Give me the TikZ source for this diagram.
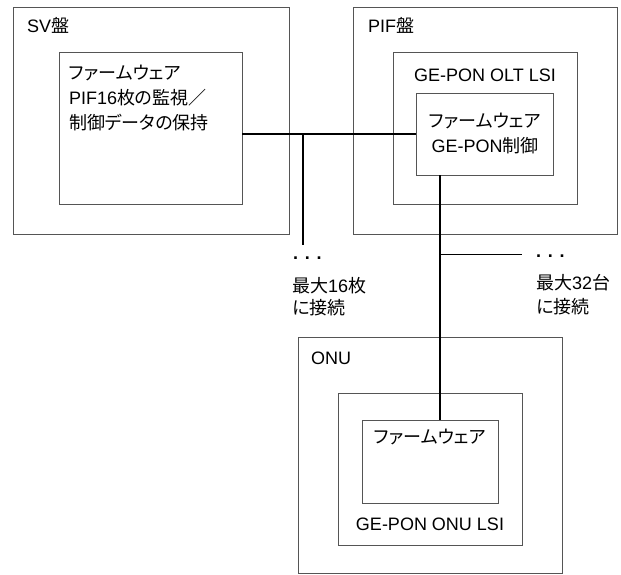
\documentclass[tikz,border=0pt]{standalone}
\usepackage{fontspec}
\setmainfont{Liberation Sans}
\newfontfamily\jpfont{Noto Sans CJK JP}[RawFeature=+palt]
\newcommand{\jtext}[1]{{\jpfont #1}}
\usetikzlibrary{positioning}
\definecolor{framegray}{HTML}{555555}

\begin{document}
\begin{tikzpicture}[
  x=1pt, y=-1pt,
  frame/.style={rectangle, draw=framegray, line width=0.8pt,
                inner sep=0pt, outer sep=0pt, anchor=north west},
  lbl/.style={inner sep=0pt, font=\fontsize{18}{25}\selectfont},
  bus/.style={draw=black, line width=1.6pt},
  tap/.style={draw=black, line width=0.9pt}
]
\useasboundingbox (0,0) rectangle (621,574);
% SV board
\node[frame, minimum width=276pt, minimum height=227pt] (sv) at (13,7) {};
\node[frame, minimum width=183pt, minimum height=152pt] (svfw) at (59,52) {};
\node[lbl, anchor=west] (svname) at (27,25) {SV\jtext{盤}};
\node[lbl, anchor=north west, align=left] (svtext) at (69,65)
  {\jtext{ファームウェア}\\PIF16\jtext{枚の監視／}\\\jtext{制御データの保持}};
% PIF board
\node[frame, minimum width=264pt, minimum height=227pt] (pif) at (353,7) {};
\node[frame, minimum width=184pt, minimum height=152pt] (olt) at (393,52) {};
\node[frame, minimum width=137pt, minimum height=82pt] (pfw) at (416,93) {};
\node[lbl, anchor=west] (pifname) at (368,25) {PIF\jtext{盤}};
\node[lbl] (oltname) at (485,75) {GE-PON OLT LSI};
\node[lbl, align=center] (pfwtext) at (485,134)
  {\jtext{ファームウェア}\\GE-PON\jtext{制御}};
% ONU
\node[frame, minimum width=264pt, minimum height=236pt] (onu) at (298,337) {};
\node[frame, minimum width=184pt, minimum height=152pt] (onulsi) at (338,393) {};
\node[frame, minimum width=136pt, minimum height=83pt] (onufw) at (362,420) {};
\node[lbl, anchor=west] (onuname) at (311,358) {ONU};
\node[lbl] (onufwtext) at (430,437) {\jtext{ファームウェア}};
\node[lbl] (onulsiname) at (430,524) {GE-PON ONU LSI};

% Connections
\coordinate (svtap) at (303,245);
\coordinate (drop) at (440,175);
\coordinate (onutap) at (522,254);
\draw[bus] (svfw.east |- pfw.west) -- (pfw.west);
\draw[bus] (svtap |- pfw.west) -- (svtap);
\draw[bus] (drop) -- (drop |- onufw.north);
\draw[tap] (drop |- onutap) -- (onutap);

% Fan-out notes
\node[lbl, anchor=base west, font=\fontsize{18}{25}\selectfont\bfseries] (dotsA) at (293,259) {. . .};
\node[lbl, anchor=base west, font=\fontsize{18}{25}\selectfont\bfseries] (dotsB) at (536,257) {. . .};
\node[lbl, anchor=west, align=left, font=\fontsize{18}{22}\selectfont] (maxpif) at (292,297)
  {\jtext{最大}16\jtext{枚}\\\jtext{に接続}};
\node[lbl, anchor=west, align=left, font=\fontsize{18}{24}\selectfont] (maxonu) at (536,295)
  {\jtext{最大}32\jtext{台}\\\jtext{に接続}};
\end{tikzpicture}
\end{document}
